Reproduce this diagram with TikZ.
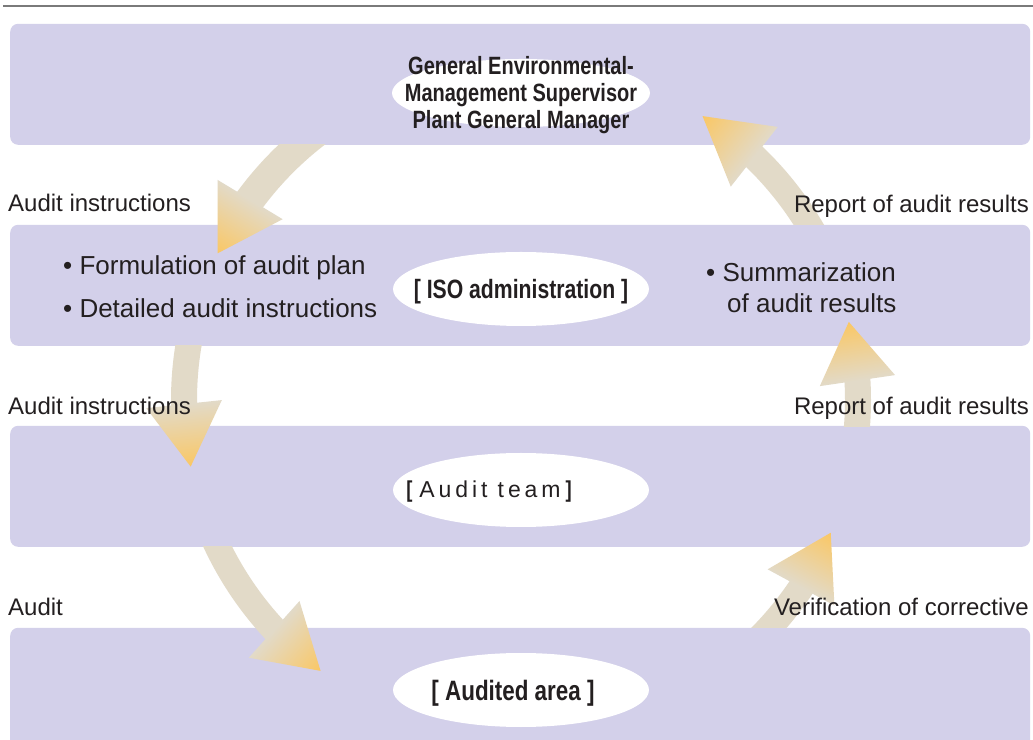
\documentclass[tikz,border=0pt]{standalone}
\usepackage{fontspec}
\setmainfont{Liberation Sans}
\newfontfamily\condfont[FakeStretch=0.8]{Liberation Sans}
\definecolor{boxcol}{HTML}{D3D0EA}
\definecolor{shaftcol}{HTML}{E2DAC8}
\definecolor{tipcol}{HTML}{FAC764}
\definecolor{txt}{HTML}{231F20}
\definecolor{rulecol}{HTML}{7A7A7A}
\tikzset{
  panel/.style={fill=boxcol, rounded corners=8pt, draw=none, inner sep=0, minimum width=1020pt, minimum height=121pt, anchor=south west},
  lbl/.style={font=\fontsize{24}{28}\selectfont, text=txt, inner sep=0},
  itemtxt/.style={font=\fontsize{26}{30}\selectfont, text=txt, inner sep=0, anchor=base west},
  headtxt/.style={text=txt, inner sep=0, align=center},
}
\newcommand\cyclearrow[5]{%
  \begin{scope}
    \clip #4;
    \fill[shaftcol] plot[domain=#1:#2+2,samples=40] ({521+(337+#5)*cos(\x)},{339+(337+#5)*sin(\x)})
      -- plot[domain=#2+2:#1,samples=40] ({521+(337-#5)*cos(\x)},{339+(337-#5)*sin(\x)}) -- cycle;
  \end{scope}
  \pgfmathsetmacro\bx{521+337*cos(#2)}%
  \pgfmathsetmacro\by{339+337*sin(#2)}%
  \pgfmathsetmacro\hl{2*337*sin((#3-#2)/2)}%
  \pgfmathsetmacro\ha{(#2+#3)/2+90}%
  \begin{scope}[transform canvas={shift={(\bx pt,\by pt)},rotate=\ha}]
    \shade[left color=shaftcol, right color=tipcol] (0,-38) -- (\hl,0) -- (0,38) -- cycle;
  \end{scope}
}
\begin{document}
\begin{tikzpicture}[x=1pt,y=1pt]
\useasboundingbox (0,0) rectangle (1033,739);
\fill[white] (0,0) rectangle (1033,739);
% rule
\coordinate (rl) at (3,733);
\coordinate (rr) at (1033,733);
\draw[rulecol, line width=1.5pt] (rl) -- (rr);
% panels
\node[panel] (p1) at (10,594) {};
\node[panel] (p2) at (10,393) {};
\node[panel] (p3) at (10,192) {};
\node[panel, minimum height=150pt] (p4) at (10,-39) {};
% ovals
\fill[white] (521,646) ellipse [x radius=129, y radius=34];
\fill[white] (521,450) ellipse [x radius=128, y radius=37];
\fill[white] (521,249) ellipse [x radius=128, y radius=37];
\fill[white] (521,49) ellipse [x radius=128, y radius=37];
% arrows
\cyclearrow{120}{143.5}{154.2}{(0,0) rectangle (1033,594)}{15}
\cyclearrow{160}{180.7}{191.4}{(0,0) rectangle (1033,393)}{13}
\cyclearrow{195}{222.9}{233.5}{(0,0) rectangle (1033,192)}{13}
\cyclearrow{-55}{-33.8}{-23.2}{(0,111) rectangle (1033,739)}{13}
\cyclearrow{-15}{3.3}{13.4}{(0,312) rectangle (1033,739)}{13}
\cyclearrow{20}{46.2}{57.4}{(0,514) rectangle (1033,739)}{13}
% central texts
\node[headtxt, font=\condfont\bfseries\fontsize{25}{27}\selectfont] (t1) at (521,644)
  {General Environmental-\\Management Supervisor\\Plant General Manager};
\node[headtxt, anchor=base, font=\condfont\bfseries\fontsize{26.5}{30}\selectfont] (t2) at (521,440)
  {[ ISO administration ]};
\node[headtxt, anchor=base, font=\fontsize{23}{28}\selectfont] (t3) at (489,241)
  {{\condfont\bfseries [}\hspace{7pt}{\addfontfeature{LetterSpace=17}Audit team}\hspace{5pt}{\condfont\bfseries ]}};
\node[headtxt, anchor=base, font=\condfont\bfseries\fontsize{28}{30}\selectfont] (t4) at (513,39)
  {[ Audited area ]};
% items
\node[itemtxt] (i1) at (63,464) {• Formulation of audit plan};
\node[itemtxt] (i2) at (63,421) {• Detailed audit instructions};
\node[itemtxt] (i3) at (706,457) {• Summarization};
\node[itemtxt] (i4) at (727,426) {of audit results};
% side labels
\node[lbl, anchor=base west] (l1) at (8,527) {Audit instructions};
\node[lbl, anchor=base west] (l2) at (8,324) {Audit instructions};
\node[lbl, anchor=base west] (l3) at (8,124) {Audit};
\node[lbl, anchor=base east] (r1) at (1029,526) {Report of audit results};
\node[lbl, anchor=base east] (r2) at (1029,324) {Report of audit results};
\node[lbl, anchor=base east] (r3) at (1029,124) {Verification of corrective};
\end{tikzpicture}
\end{document}
